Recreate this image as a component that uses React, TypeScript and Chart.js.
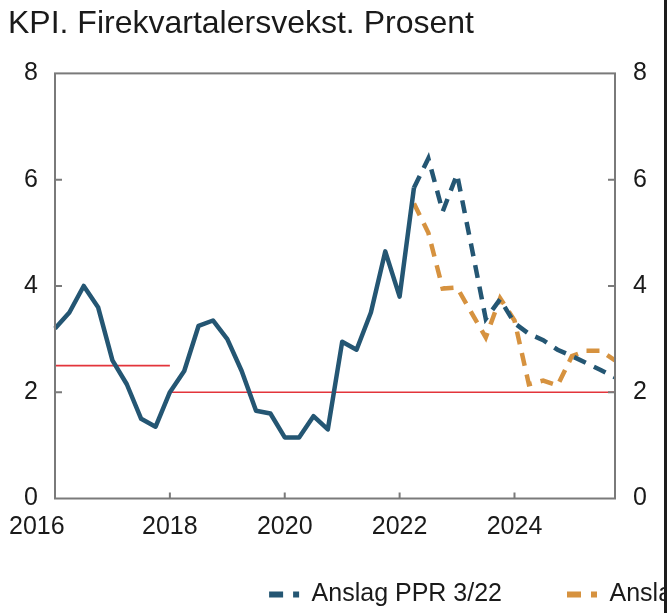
import React, { useEffect, useRef } from 'react';
import { Chart, registerables } from 'chart.js';

Chart.register(...registerables);

// ---------- data ----------
const quarters = [
  '2016K1', '2016K2', '2016K3', '2016K4',
  '2017K1', '2017K2', '2017K3', '2017K4',
  '2018K1', '2018K2', '2018K3', '2018K4',
  '2019K1', '2019K2', '2019K3', '2019K4',
  '2020K1', '2020K2', '2020K3', '2020K4',
  '2021K1', '2021K2', '2021K3', '2021K4',
  '2022K1', '2022K2', '2022K3', '2022K4',
  '2023K1', '2023K2', '2023K3', '2023K4',
  '2024K1', '2024K2', '2024K3', '2024K4',
  '2025K1', '2025K2', '2025K3', '2025K4',
];

// KPI, four-quarter growth (history), 2016K1 - 2022K2
const kpi = [
  3.2, 3.5, 4.0, 3.6, 2.6, 2.15, 1.5, 1.35,
  2.0, 2.4, 3.25, 3.35, 3.0, 2.4, 1.65, 1.6,
  1.15, 1.15, 1.55, 1.3, 2.95, 2.8, 3.5, 4.65,
  3.8, 5.85,
];

// Forecasts, starting 2022K2
const forecastStart = '2022K2';
const anslagPPR322 = [5.85, 6.4, 5.4, 6.1, 4.75, 3.38, 3.75, 3.3, 3.1, 2.98, 2.8, 2.68, 2.55, 2.42, 2.28];
const anslagPPR222 = [5.55, 5.0, 3.95, 3.97, 3.5, 3.03, 3.77, 3.35, 2.15, 2.22, 2.13, 2.68, 2.78, 2.78, 2.6];

// Inflation target
const target1 = { from: '2016K1', to: '2018K1', value: 2.5 };
const target2 = { from: '2018K1', to: '2025K4', value: 2.0 };

const titleText = 'KPI. Firekvartalersvekst. Prosent';
const legendLabels = ['Anslag PPR 3/22', 'Anslag PPR 2/22'];
const xTickQuarters = ['2016K1', '2018K1', '2020K1', '2022K1', '2024K1'];
const xTickLabels = ['2016', '2018', '2020', '2022', '2024'];
const yTicks = [0, 2, 4, 6, 8];

// ---------- style ----------
const W = 1006;
const H = 617;
const PAD_LEFT = 8;
const FONT = '"Liberation Sans", Arial, Helvetica, sans-serif';
const BLUE = '#245673';
const ORANGE = '#d6923f';
const RED = '#e3343b';
const TEXT = '#1a1a1a';
const FRAME = '#7a7a7a';

export default function App() {
  const ref = useRef<HTMLCanvasElement>(null);

  useEffect(() => {
    const canvas = ref.current;
    if (!canvas) return;

    const startIdx = quarters.indexOf(forecastStart);
    const series = (arr: number[], start: number) =>
      quarters.map((_, i) => (i >= start && i - start < arr.length ? arr[i - start] : null));
    const flat = (t: { from: string; to: string; value: number }) => {
      const a = quarters.indexOf(t.from);
      const b = quarters.indexOf(t.to);
      return quarters.map((_, i) => (i >= a && i <= b ? t.value : null));
    };

    const frame = {
      id: 'frameTicks',
      afterDraw(chart: any) {
        const { ctx, chartArea } = chart;
        const xs = chart.scales.x;
        const ys = chart.scales.y;
        const { left, right, top, bottom } = chartArea;
        ctx.save();
        ctx.strokeStyle = FRAME;
        ctx.lineWidth = 2;
        ctx.strokeRect(left, top, right - left, bottom - top);
        ctx.beginPath();
        xTickQuarters.forEach((q, k) => {
          if (k === 0) return;
          const px = xs.getPixelForValue(quarters.indexOf(q));
          ctx.moveTo(px, bottom);
          ctx.lineTo(px, bottom - 6);
        });
        yTicks.forEach((v) => {
          if (v === 0 || v === 8) return;
          const py = ys.getPixelForValue(v);
          ctx.moveTo(left, py);
          ctx.lineTo(left + 7, py);
          ctx.moveTo(right, py);
          ctx.lineTo(right - 7, py);
        });
        ctx.stroke();
        // first x label, justified to the left edge of the chart
        ctx.font = `25px ${FONT}`;
        ctx.fillStyle = TEXT;
        ctx.textBaseline = 'middle';
        ctx.textAlign = 'left';
        ctx.fillText(xTickLabels[0], PAD_LEFT + 1, xs.top + 14 + 15);
        ctx.restore();
      },
    };

    const chart = new Chart(canvas, {
      type: 'line',
      data: {
        labels: quarters,
        datasets: [
          {
            label: 'KPI',
            data: series(kpi, 0),
            borderColor: BLUE,
            borderWidth: 4.5,
            borderJoinStyle: 'round',
            pointRadius: 0,
            tension: 0,
          },
          {
            label: legendLabels[0],
            data: series(anslagPPR322, startIdx),
            borderColor: BLUE,
            borderWidth: 4.5,
            borderDash: [13, 9],
            pointRadius: 0,
            tension: 0,
          },
          {
            label: legendLabels[1],
            data: series(anslagPPR222, startIdx),
            borderColor: ORANGE,
            borderWidth: 4.5,
            borderDash: [13, 9],
            pointRadius: 0,
            tension: 0,
          },
          {
            label: 'Mål 1',
            data: flat(target1),
            borderColor: RED,
            borderWidth: 1.6,
            pointRadius: 0,
          },
          {
            label: 'Mål 2',
            data: flat(target2),
            borderColor: RED,
            borderWidth: 1.6,
            pointRadius: 0,
          },
        ],
      } as any,
      options: {
        animation: false,
        responsive: false,
        devicePixelRatio: 1,
        layout: { padding: { left: PAD_LEFT, right: 0, top: 0, bottom: 0 } },
        plugins: {
          tooltip: { enabled: false },
          title: {
            display: true,
            text: titleText,
            align: 'start',
            color: TEXT,
            font: { family: FONT, size: 32, weight: 'normal' },
            padding: { top: 5, bottom: 30 },
          },
          legend: {
            display: true,
            position: 'bottom',
            align: 'center',
            labels: {
              color: TEXT,
              font: { family: FONT, size: 25 },
              usePointStyle: true,
              pointStyleWidth: 85,
              padding: 10,
              generateLabels: () =>
                legendLabels.map((text, i) => ({
                  text,
                  fillStyle: i === 0 ? BLUE : ORANGE,
                  strokeStyle: i === 0 ? BLUE : ORANGE,
                  lineWidth: 6,
                  lineDash: [14, 10, 6, 300],
                  lineDashOffset: -55,
                  lineCap: 'butt',
                  pointStyle: 'line',
                  hidden: false,
                  datasetIndex: i + 1,
                  fontColor: TEXT,
                })) as any,
            },
          },
        },
        scales: {
          x: {
            type: 'category',
            offset: false,
            grid: { display: false, drawTicks: false },
            border: { display: false },
            ticks: {
              autoSkip: false,
              maxRotation: 0,
              minRotation: 0,
              padding: 14,
              font: { family: FONT, size: 25 },
              color: (c: any) => (c.index === 0 ? 'rgba(0,0,0,0)' : TEXT),
              callback: (_v: any, index: number) => {
                const k = xTickQuarters.indexOf(quarters[index]);
                return k >= 0 ? xTickLabels[k] : '';
              },
            },
            afterFit: (s: any) => {
              s.height = 73.5;
            },
          },
          y: {
            position: 'left',
            min: 0,
            max: 8,
            grid: { display: false, drawTicks: false },
            border: { display: false },
            ticks: { stepSize: 2, padding: 17, color: TEXT, font: { family: FONT, size: 25 } },
            afterFit: (s: any) => {
              s.width = 47;
            },
          },
          y2: {
            position: 'right',
            min: 0,
            max: 8,
            grid: { display: false, drawTicks: false },
            border: { display: false },
            ticks: { stepSize: 2, padding: 18, color: TEXT, font: { family: FONT, size: 25 } },
            afterFit: (s: any) => {
              s.width = W - 615;
            },
          },
        },
      } as any,
      plugins: [frame],
    });
    return () => chart.destroy();
  }, []);

  return (
    <div style={{ position: 'fixed', left: 0, top: 0, width: 667, height: 613, overflow: 'hidden', background: '#fff' }}>
      <canvas ref={ref} width={W} height={H} style={{ width: W, height: H, display: 'block', position: 'absolute', left: 0, top: 0 }} />
      <div style={{ position: 'absolute', right: 0, top: 0, width: 3, height: '100%', background: '#1c1c1c' }} />
    </div>
  );
}
